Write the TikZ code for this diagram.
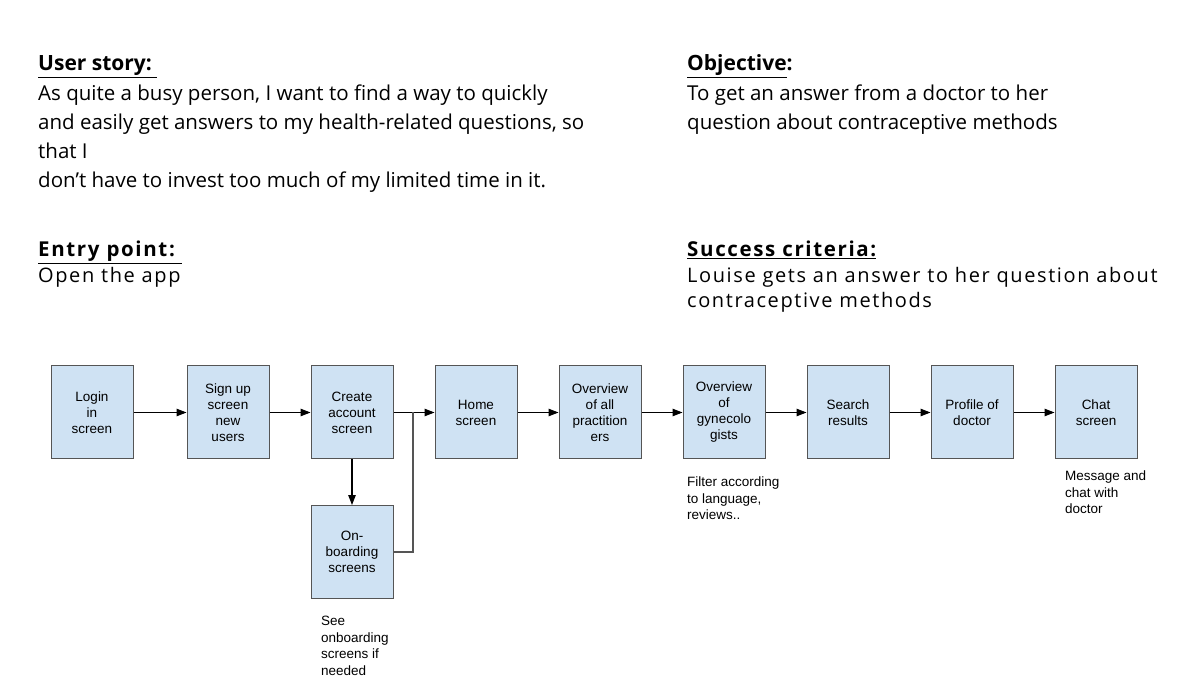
\documentclass[tikz,border=0pt]{standalone}
\usepackage{fontspec}
\setmainfont{Open Sans}
\newfontfamily\arialf{Liberation Sans}
\newfontfamily\spacedf[LetterSpace=8]{Open Sans}
\usetikzlibrary{arrows.meta}
\definecolor{boxfill}{HTML}{CFE2F3}
\definecolor{boxline}{HTML}{555555}
\tikzset{
  screen/.style={draw=boxline, line width=1pt, fill=boxfill, minimum width=82pt, minimum height=93pt, inner sep=0pt, align=center, font=\arialf\fontsize{13.5}{16}\selectfont},
  flow/.style={line width=1.1pt, -{Triangle[length=10pt,width=7.5pt]}},
  plainline/.style={line width=1.1pt, draw=boxline},
  head/.style={anchor=base west, inner sep=0pt, font=\fontsize{21}{25}\selectfont\bfseries},
  body/.style={anchor=base west, inner sep=0pt, font=\fontsize{20.5}{29}\selectfont},
  sbody/.style={anchor=base west, inner sep=0pt, font=\spacedf\fontsize{20}{25}\selectfont},
  note/.style={anchor=north west, inner sep=0pt, align=left, font=\arialf\fontsize{13.5}{16.5}\selectfont}
}
\begin{document}
\begin{tikzpicture}[x=1pt,y=-1pt]
\useasboundingbox[fill=white] (0,0) rectangle (1200,700);
% headers
\node[head] (us) at (38,71) {\underline{User story:\ }};
\node[body] (us1) at (38,101) {As quite a busy person, I want to find a way to quickly};
\node[body] (us2) at (38,130) {and easily get answers to my health-related questions, so};
\node[body] (us3) at (38,159) {that I};
\node[body] (us4) at (38,188) {don\symbol{39}t have to invest too much of my limited time in it.};
\node[head] (ob) at (687,71) {\underline{Objective}:};
\node[body] (ob1) at (687,101) {To get an answer from a doctor to her};
\node[body] (ob2) at (687,130) {question about contraceptive methods};
\node[head, font=\spacedf\fontsize{20.5}{25}\selectfont\bfseries] (ep) at (38,257) {\underline{Entry point:\ }};
\node[sbody] (ep1) at (38,283) {Open the app};
\node[head, font=\spacedf\fontsize{20.5}{25}\selectfont\bfseries] (sc) at (687,257) {\underline{Success criteria:}};
\node[sbody] (sc1) at (687,283) {Louise gets an answer to her question about};
\node[sbody] (sc2) at (687,308) {contraceptive methods};
% screens
\node[screen] (login) at (92,412.5) {Login\\in\\screen};
\node[screen] (signup) at (228,412.5) {Sign up\\screen\\new\\users};
\node[screen] (create) at (352,412.5) {Create\\account\\screen};
\node[screen] (home) at (476,412.5) {Home\\screen};
\node[screen] (all) at (600,412.5) {Overview\\of all\\practition\\ers};
\node[screen] (gyn) at (724,412.5) {Overview\\of\\gynecolo\\gists};
\node[screen] (search) at (848,412.5) {Search\\results};
\node[screen] (profile) at (972,412.5) {Profile of\\doctor};
\node[screen] (chat) at (1096,412.5) {Chat\\screen};
\node[screen] (onb) at (352,552) {On-\\boarding\\screens};
\coordinate (join) at (413,412.5);
% connectors
\draw[flow] (login) -- (signup);
\draw[flow] (signup) -- (create);
\draw[flow] (create) -- (home);
\draw[flow] (home) -- (all);
\draw[flow] (all) -- (gyn);
\draw[flow] (gyn) -- (search);
\draw[flow] (search) -- (profile);
\draw[flow] (profile) -- (chat);
\draw[flow] (create) -- (onb);
\draw[plainline] (onb.east) -| (join);
% notes
\node[note] (n1) at (687,477) {Filter according\\to language,\\reviews..};
\node[note] (n2) at (1065,471) {Message and\\chat with\\doctor};
\node[note] (n3) at (321,616) {See\\onboarding\\screens if\\needed};
\end{tikzpicture}
\end{document}
